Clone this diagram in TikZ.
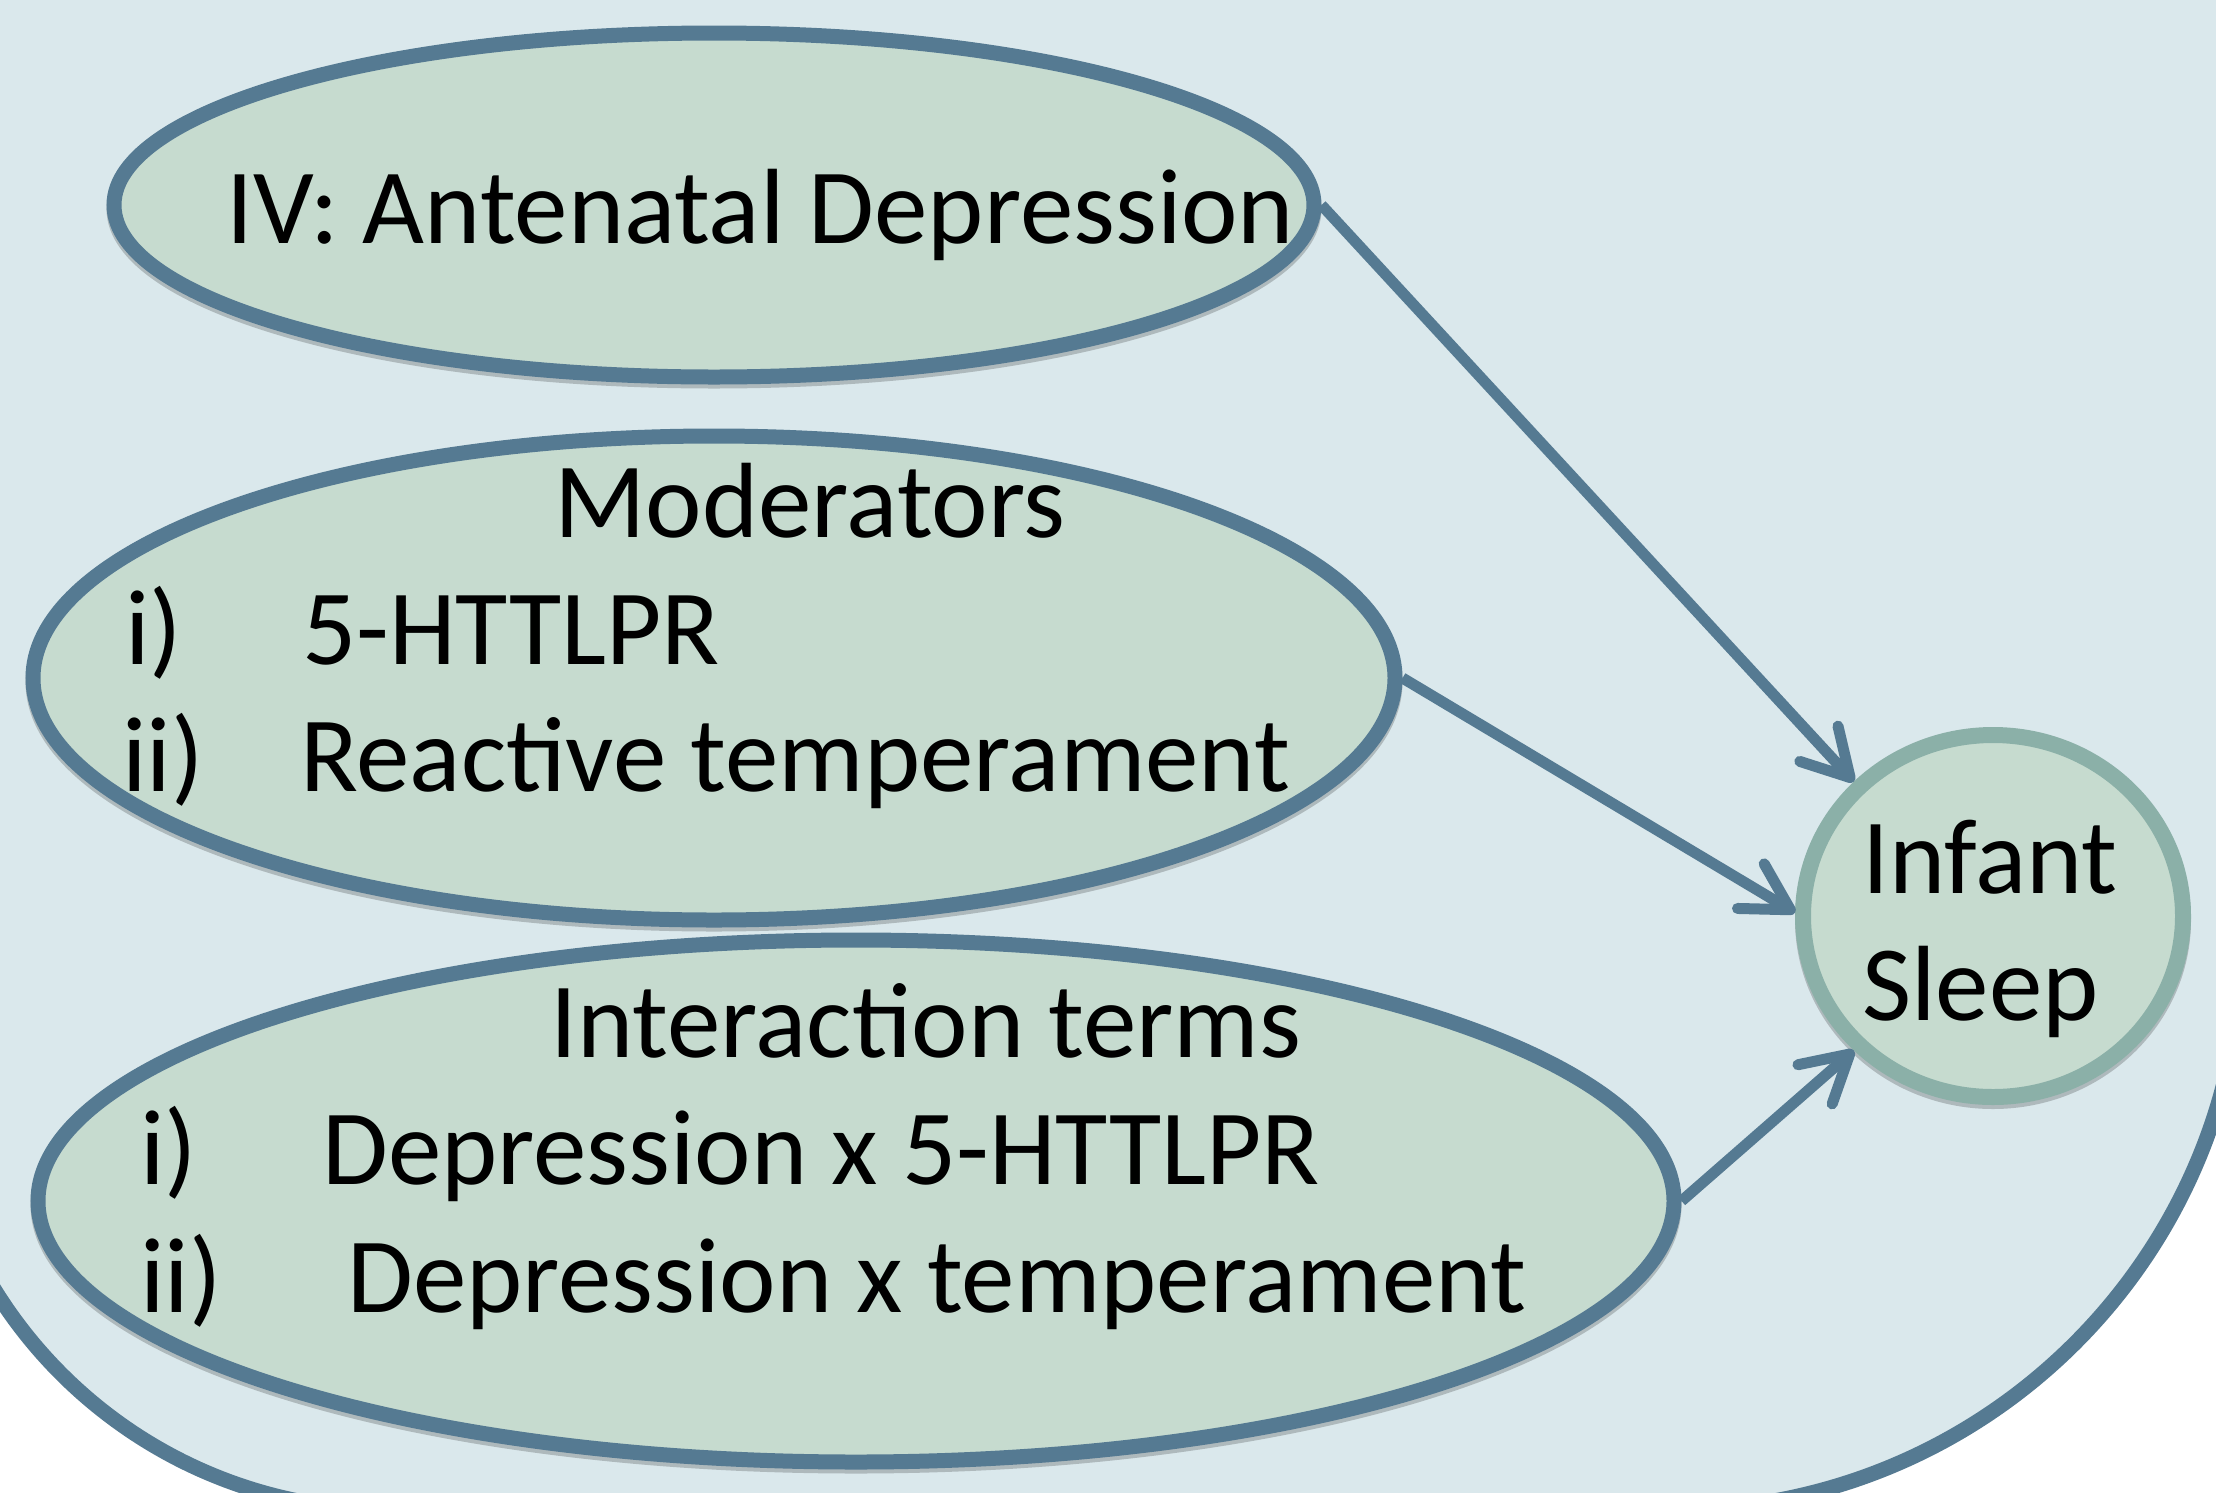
\documentclass[tikz,border=0pt]{standalone}
\usepackage{fontspec}
\setmainfont{Carlito}
\usepackage{xcolor}
\usepackage{tikz}
\usetikzlibrary{arrows.meta,positioning,shapes.geometric}

\definecolor{panelblue}{HTML}{DAE8EC}
\definecolor{frameblue}{HTML}{557A92}
\definecolor{ovalgreen}{HTML}{C6DBCF}
\definecolor{ringgreen}{HTML}{8BB0A8}

\begin{document}
\begin{tikzpicture}[x=1pt, y=-1pt,
        big/.style={font=\fontsize{107}{128}\selectfont},
        oval/.style={ellipse, draw=frameblue, line width=15pt, fill=ovalgreen, inner sep=0pt,
              preaction={draw=black, opacity=0.2, transform canvas={yshift=-4pt}}},
        txt/.style={big, anchor=base west, inner sep=0pt},
        link/.style={draw=frameblue, line width=11pt,
              -{Straight Barb[length=46pt, width=52pt, round]}}]
        \fill[white] (0,0) rectangle (2216,1492);
        \useasboundingbox (0,0) rectangle (2216,1492);
        \clip (0,0) rectangle (2216,1492);

        % Panel
        \draw[fill=panelblue, draw=frameblue, line width=15pt]
              (-100,-100) -- (-75,1045) arc[start angle=180, end angle=90, radius=465]
              -- (1672,1510) arc[start angle=90, end angle=0, radius=570]
              -- (2242,-100) -- cycle;

        % Independent variable
        \node[oval, minimum width=1200pt, minimum height=344pt] (iv) at (714,205) {};
        \node[txt] (ivtext) at (226,243) {IV: Antenatal Depression};

        % Moderators
        \node[oval, minimum width=1362pt, minimum height=484pt] (mod) at (714,678) {};
        \node[txt] (modhead) at (554,537) {Moderators};
        \node[txt] (modia) at (125,664) {i)};
        \node[txt] (modib) at (302,664) {5-HTTLPR};
        \node[txt] (modiia) at (122,791) {ii)};
        \node[txt] (modiib) at (300,791) {Reactive temperament};

        % Interaction terms
        \node[oval, minimum width=1636pt, minimum height=522pt] (inter) at (856,1201) {};
        \node[txt] (interhead) at (550,1057) {Interaction terms};
        \node[txt] (interia) at (140,1184) {i)};
        \node[txt] (interib) at (322,1184) {Depression x 5-HTTLPR};
        \node[txt] (interiia) at (140,1312) {ii)};
        \node[txt] (interiib) at (347,1312) {Depression x temperament};

        % Outcome
        \node[ellipse, draw=ringgreen, line width=16pt, fill=ovalgreen, inner sep=0pt,
              minimum width=380pt, minimum height=362pt,
              preaction={draw=black, opacity=0.2, transform canvas={yshift=-4pt}}] (sleep) at (1993,916) {};
        \node[txt] (sleepa) at (1862,893) {Infant};
        \node[txt] (sleepb) at (1862,1020) {Sleep};

        % Arrows
        \draw[link] (iv.east) -- (sleep.136);
        \draw[link] (mod.east) -- (sleep.179);
        \draw[link] (inter.east) -- (sleep.224);
    \end{tikzpicture}
\end{document}
